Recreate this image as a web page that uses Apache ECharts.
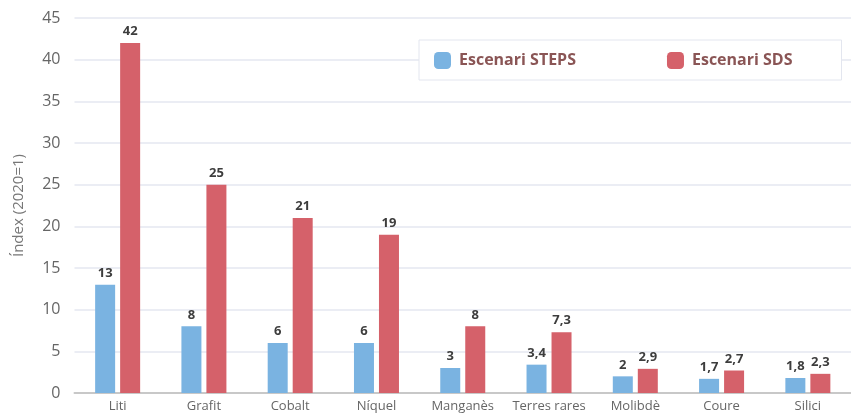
<!DOCTYPE html>
<html><head><meta charset="utf-8">
<script src="https://cdn.jsdelivr.net/npm/echarts@6/dist/echarts.min.js"></script>
<style>html,body{margin:0;padding:0;background:#fff}#c{width:851px;height:414px}</style>
</head><body><div id="c"></div>
<script>
var categories = ['Liti','Grafit','Cobalt','Níquel','Manganès','Terres rares','Molibdè','Coure','Silici'];
var steps = [13, 8, 6, 6, 3, 3.4, 2, 1.7, 1.8];
var sds = [42, 25, 21, 19, 8, 7.3, 2.9, 2.7, 2.3];
var yTicks = {min: 0, max: 45, interval: 5};
var font = '"Open Sans", "Noto Sans", sans-serif';
var chart = echarts.init(document.getElementById('c'));
var lbl = {show: true, position: 'top', distance: 5, fontFamily: font, fontWeight: 'bold', fontSize: 13, color: '#3d3d3d',
  formatter: function(p){ return String(p.value).replace('.', ','); }};
chart.setOption({
  animation: false,
  textStyle: {fontFamily: font},
  grid: {left: 74.5, right: -9, top: 18, bottom: 21},
  legend: {
    left: 419, top: 40, orient: 'horizontal',
    padding: [12, 49, 11, 15],
    itemWidth: 17, itemHeight: 17, itemGap: 91,
    borderColor: '#e3e6ef', borderWidth: 1, backgroundColor: '#fff',
    textStyle: {fontFamily: font, fontSize: 16, fontWeight: 'bold', color: '#8a5555', padding: [0, 0, 0, 3]},
    data: ['Escenari STEPS', 'Escenari SDS']
  },
  xAxis: {
    type: 'category', data: categories,
    axisLine: {lineStyle: {color: '#c8c8c8', width: 2}},
    axisTick: {show: false},
    axisLabel: {interval: 0, fontFamily: font, fontSize: 13, color: '#666', margin: 7}
  },
  yAxis: {
    type: 'value', min: yTicks.min, max: yTicks.max, interval: yTicks.interval,
    name: 'Índex (2020=1)', nameLocation: 'middle', nameGap: 48, nameRotate: 90,
    nameTextStyle: {fontFamily: font, fontSize: 15, color: '#777'},
    axisLine: {show: false}, axisTick: {show: false},
    axisLabel: {fontFamily: font, fontSize: 16, color: '#666', margin: 14},
    splitLine: {lineStyle: {color: '#e4e7f0', width: 1.5}}
  },
  series: [
    {name: 'Escenari STEPS', type: 'bar', data: steps, barWidth: 20, barGap: '25%',
     itemStyle: {color: '#7ab3e1'}, label: lbl},
    {name: 'Escenari SDS', type: 'bar', data: sds, barWidth: 20,
     itemStyle: {color: '#d5616a'}, label: lbl}
  ]
});
</script></body></html>
